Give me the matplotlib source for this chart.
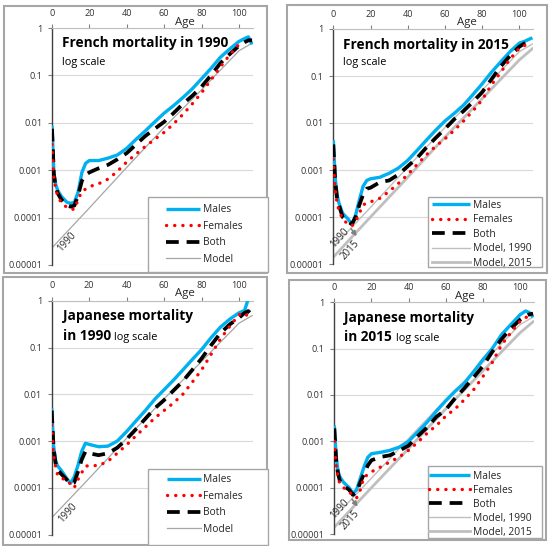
import numpy as np
import matplotlib
matplotlib.use("Agg")
import matplotlib.pyplot as plt
from matplotlib.patches import Rectangle
from matplotlib.ticker import FixedLocator, FixedFormatter, NullLocator

plt.rcParams['font.family'] = ['Open Sans', 'DejaVu Sans']

nan = np.nan
ages = [0, 1, 2, 3, 5, 8, 10, 12, 14, 16, 18, 20, 25, 30, 35, 40, 45, 50, 55,
        60, 65, 70, 75, 80, 85, 90, 95, 100, 103, 105, 107]

fr1990_males = [0.0088, 0.0009, 0.0005, 0.00038, 0.00028, 0.00021, 0.0002, 0.00021, 0.00035, 0.0009,
                0.0014, 0.0016, 0.0016, 0.0018, 0.0021, 0.0029, 0.0045, 0.0068, 0.0105, 0.016,
                0.023, 0.034, 0.052, 0.085, 0.14, 0.24, 0.36, 0.52, 0.6, 0.65, 0.45]
fr1990_females = [0.0035, 0.0007, 0.0004, 0.0003, 0.0002, 0.000165, 0.00015, 0.00015, 0.00024, 0.00036,
                  0.0004, 0.00045, 0.00052, 0.00065, 0.00095, 0.0015, 0.0022, 0.0032, 0.0045, 0.0063,
                  0.0095, 0.015, 0.025, 0.043, 0.08, 0.15, 0.27, 0.45, 0.5, nan, nan]
fr1990_both = [0.0075, 0.0008, 0.00045, 0.00033, 0.00024, 0.00018, 0.00017, 0.00018, 0.0003, 0.0006,
               0.0008, 0.0009, 0.0011, 0.0013, 0.0017, 0.0023, 0.0035, 0.0053, 0.0075, 0.0105,
               0.016, 0.025, 0.037, 0.058, 0.1, 0.18, 0.28, 0.42, 0.5, 0.55, 0.55]

fr2015_males = [0.0043, 0.0007, 0.0003, 0.0002, 0.00012, 0.00009, 0.00007, 0.00011, 0.00023, 0.00045,
                0.0006, 0.00065, 0.0007, 0.00085, 0.0011, 0.0016, 0.0026, 0.0043, 0.007, 0.011,
                0.016, 0.024, 0.04, 0.068, 0.12, 0.2, 0.33, 0.5, 0.55, 0.6, 0.65]
fr2015_females = [0.0017, 0.0004, 0.0002, 0.00014, 0.00009, 0.00007, 0.000065, 0.00008, 0.00012, 0.00018,
                  0.0002, 0.00021, 0.00025, 0.00035, 0.00052, 0.0008, 0.0013, 0.0021, 0.0032, 0.0046,
                  0.007, 0.011, 0.018, 0.031, 0.065, 0.12, 0.23, 0.39, 0.45, 0.5, nan]
fr2015_both = [0.0035, 0.0006, 0.00025, 0.00018, 0.0001, 0.00008, 0.00007, 0.0001, 0.00018, 0.0003,
               0.0004, 0.00042, 0.00055, 0.0006, 0.0008, 0.0012, 0.0018, 0.003, 0.0048, 0.0075,
               0.012, 0.018, 0.028, 0.045, 0.085, 0.16, 0.27, 0.42, 0.5, 0.55, 0.6]

jp1990_males = [0.005, 0.0008, 0.0004, 0.0003, 0.00024, 0.00016, 0.000125, 0.00017, 0.0003, 0.0006,
                0.0009, 0.00085, 0.00076, 0.00078, 0.001, 0.0016, 0.0027, 0.0045, 0.0078, 0.0125,
                0.02, 0.033, 0.055, 0.09, 0.16, 0.27, 0.4, 0.55, 0.62, 1.1, nan]
jp1990_females = [0.0022, 0.0005, 0.0003, 0.0002, 0.00016, 0.00015, 0.00012, 0.0001, 0.00015, 0.00021,
                  0.00029, 0.0003, 0.0003, 0.00037, 0.00055, 0.00083, 0.0013, 0.002, 0.0031, 0.0045,
                  0.0065, 0.01, 0.018, 0.033, 0.07, 0.15, 0.28, 0.5, 0.55, 0.45, nan]
jp1990_both = [0.0045, 0.0007, 0.00035, 0.00025, 0.0002, 0.00015, 0.00012, 0.00013, 0.00022, 0.0004,
               0.0006, 0.00055, 0.0005, 0.00055, 0.00072, 0.0011, 0.0018, 0.003, 0.005, 0.0075,
               0.012, 0.019, 0.033, 0.058, 0.11, 0.2, 0.31, 0.43, 0.55, 0.6, 0.5]

jp2015_males = [0.0022, 0.00046, 0.00023, 0.00017, 0.00013, 0.0001, 0.000075, 0.00009, 0.00016, 0.00028,
                0.00045, 0.00054, 0.00058, 0.00064, 0.00075, 0.001, 0.0016, 0.0026, 0.0045, 0.0075,
                0.012, 0.018, 0.032, 0.058, 0.1, 0.2, 0.33, 0.54, 0.65, 0.6, 0.48]
jp2015_females = [0.001, 0.0003, 0.00017, 0.00012, 0.0001, 0.00008, 0.00007, 0.00006, 0.00009, 0.00017,
                  0.00019, 0.00022, 0.00028, 0.00036, 0.00046, 0.00064, 0.00096, 0.0015, 0.0022, 0.0035,
                  0.005, 0.0079, 0.013, 0.025, 0.05, 0.12, 0.22, 0.39, 0.47, 0.5, nan]
jp2015_both = [0.0019, 0.0004, 0.0002, 0.00014, 0.00011, 0.00009, 0.00007, 0.00008, 0.00013, 0.0002,
               0.0003, 0.00039, 0.00046, 0.0005, 0.00063, 0.00081, 0.0013, 0.002, 0.0034, 0.0048,
               0.0085, 0.014, 0.024, 0.042, 0.085, 0.16, 0.27, 0.42, 0.5, 0.55, 0.57]

model_ages = [0, 20, 40, 60, 80, 100, 107]
model_1990 = [2.3e-5, 1.6e-4, 1.15e-3, 8.0e-3, 0.05, 0.33, 0.48]
model_2015 = [1.4e-5, 1.0e-4, 7.0e-4, 5.0e-3, 0.033, 0.22, 0.38]

y_ticks = [1e-5, 1e-4, 1e-3, 1e-2, 1e-1, 1]
y_labels = ['0.00001', '0.0001', '0.001', '0.01', '0.1', '1']
x_ticks = [0, 20, 40, 60, 80, 100]
x_labels = ['0', '20', '40', '60', '80', '100']

W, H = 550, 546
fig = plt.figure(figsize=(W / 100, H / 100), dpi=100)


def frect(l, t, r, b):
    return [l / W, 1 - b / H, (r - l) / W, (b - t) / H]


BLUE = '#00B0F0'
RED = '#FF0000'
GRID = '#D9D9D9'
BORDER = '#A6A6A6'

panels = [
    dict(ax=(52, 28, 253, 265), border=(4, 6, 267, 273), leg=(148, 197, 268, 272),
         leg_anchor=(166, 204.5), leg_sp=0.52, hlen=3.3,
         m=fr1990_males, f=fr1990_females, b=fr1990_both, two_models=False,
         title=[("French mortality in 1990", 62, 43)], sub=("log scale", 62, 62, False),
         age=(185, 22), lab1990=(7.9, 3.1e-5), lab2015=None),
    dict(ax=(333.3, 29, 533.3, 264), border=(287, 5, 547, 273), leg=(428, 197, 542, 267),
         leg_anchor=(431.7, 200), leg_sp=0.33, hlen=3.7,
         m=fr2015_males, f=fr2015_females, b=fr2015_both, two_models=True,
         title=[("French mortality in 2015", 343.3, 45)], sub=("log scale", 343.3, 62, False),
         age=(466.7, 22.7), lab1990=(3.6, 3.5e-5), lab2015=(9.0, 2.0e-5)),
    dict(ax=(51.7, 300.7, 253, 534.7), border=(3, 277, 267, 545), leg=(148, 469, 268, 545),
         leg_anchor=(166.7, 474.5), leg_sp=0.52, hlen=3.3,
         m=jp1990_males, f=jp1990_females, b=jp1990_both, two_models=False,
         title=[("Japanese mortality", 62.7, 316.3), ("in 1990", 62.7, 336.3)],
         sub=("log scale", None, None, True),
         age=(185, 293.7), lab1990=(8.8, 2.9e-5), lab2015=None),
    dict(ax=(334.3, 302.3, 534, 534), border=(289, 280, 546, 540), leg=(428, 466, 542, 538),
         leg_anchor=(429, 471), leg_sp=0.29, hlen=4.0,
         m=jp2015_males, f=jp2015_females, b=jp2015_both, two_models=True,
         title=[("Japanese mortality", 344.3, 318), ("in 2015", 344.3, 337.3)],
         sub=("log scale", None, None, True),
         age=(465, 296.3), lab1990=(3.0, 3.5e-5), lab2015=(8.4, 2.0e-5)),
]

for p in panels:
    # panel border
    l, t, r, b = p['border']
    fig.add_artist(Rectangle((l / W, 1 - b / H), (r - l) / W, (b - t) / H,
                             transform=fig.transFigure, fill=False,
                             edgecolor=BORDER, lw=1.5, zorder=0))
    ax = fig.add_axes(frect(*p['ax']))
    ax.set_yscale('log')
    ax.set_xlim(0, 107.5)
    ax.set_ylim(1e-5, 1)
    ax.yaxis.set_major_locator(FixedLocator(y_ticks))
    ax.yaxis.set_major_formatter(FixedFormatter(y_labels))
    ax.yaxis.set_minor_locator(NullLocator())
    ax.xaxis.set_major_locator(FixedLocator(x_ticks))
    ax.xaxis.set_major_formatter(FixedFormatter(x_labels))
    ax.xaxis.tick_top()
    ax.tick_params(axis='both', labelsize=6.6, labelcolor='#333333', length=3,
                   width=0.8, color='#808080')
    ax.tick_params(axis='y', pad=4.0)
    ax.tick_params(axis='x', pad=4.5)
    for s in ['right', 'bottom']:
        ax.spines[s].set_visible(False)
    ax.spines['top'].set_color('#BFBFBF')
    ax.spines['top'].set_linewidth(0.8)
    ax.spines['left'].set_color('#404040')
    ax.spines['left'].set_linewidth(1.0)
    ax.yaxis.grid(True, color=GRID, lw=0.8)
    ax.set_axisbelow(True)

    if p['two_models']:
        h_m90, = ax.plot(model_ages, model_1990, color='#BFBFBF', lw=1.0, zorder=2)
        h_m15, = ax.plot(model_ages, model_2015, color='#BFBFBF', lw=2.0, zorder=2)
    else:
        h_m90, = ax.plot(model_ages, model_1990, color='#A6A6A6', lw=0.9, zorder=2)
        h_m15 = None
    h_m, = ax.plot(ages, p['m'], color=BLUE, lw=2.4, solid_capstyle='butt', zorder=3)
    h_b, = ax.plot(ages, p['b'], color='black', lw=2.7, dashes=(3.4, 2.1),
                   dash_capstyle='butt', zorder=4)
    h_f, = ax.plot(ages, p['f'], color=RED, lw=2.4, linestyle=(0, (0.05, 2.4)),
                   dash_capstyle='round', zorder=5)

    if p['two_models']:
        hs = [h_m, h_f, h_b, h_m90, h_m15]
        ls = ['Males', 'Females', 'Both', 'Model, 1990', 'Model, 2015']
    else:
        hs = [h_m, h_f, h_b, h_m90]
        ls = ['Males', 'Females', 'Both', 'Model']

    # legend box
    l, t, r, b = p['leg']
    ax.add_patch(Rectangle((l / W, 1 - b / H), (r - l) / W, (b - t) / H,
                           transform=fig.transFigure, facecolor='white',
                           edgecolor=BORDER, lw=1.0, zorder=6, clip_on=False))
    ax_x, ax_y = p['leg_anchor']
    leg = ax.legend(hs, ls, loc='upper left', bbox_to_anchor=(ax_x / W, 1 - ax_y / H),
                    bbox_transform=fig.transFigure, frameon=False, borderpad=0,
                    borderaxespad=0, fontsize=7.4, handlelength=p['hlen'],
                    handletextpad=0.28, labelspacing=p['leg_sp'], labelcolor='#262626')
    leg.set_zorder(7)

    # model year labels
    x90, y90 = p['lab1990']
    ax.text(x90, y90, '1990', rotation=48, ha='center', va='center',
            rotation_mode='anchor', fontsize=7.0, color='#262626', zorder=6)
    if p['lab2015'] is not None:
        x15, y15 = p['lab2015']
        ax.text(x15, y15, '2015', rotation=48, ha='center', va='center',
                rotation_mode='anchor', fontsize=7.0, color='#262626', zorder=6)
        ax.annotate('', xy=(12.6, 3.9e-5), xytext=(9.6, 5.6e-5),
                    arrowprops=dict(arrowstyle='-|>', color='#808080', lw=1.2,
                                    mutation_scale=7, shrinkA=0, shrinkB=0), zorder=6)

    # titles
    txt = None
    for s, x, y in p['title']:
        txt = fig.text(x / W, 1 - y / H, s, fontsize=9.8, fontweight='bold',
                       ha='left', va='center', color='black')
    s, x, y, inline = p['sub']
    if not inline:
        fig.text(x / W, 1 - y / H, s, fontsize=7.8, ha='left', va='center', color='black')
    else:
        ax.annotate(s, xy=(1, 0), xycoords=txt, xytext=(2.5, 0.4),
                    textcoords='offset points', fontsize=7.8, ha='left',
                    va='bottom', color='black', annotation_clip=False)

    # axis title
    axx, axy = p['age']
    fig.text(axx / W, 1 - axy / H, 'Age', fontsize=8.2, ha='center', va='center',
             color='#262626')

fig.savefig('out.png', dpi=100)
